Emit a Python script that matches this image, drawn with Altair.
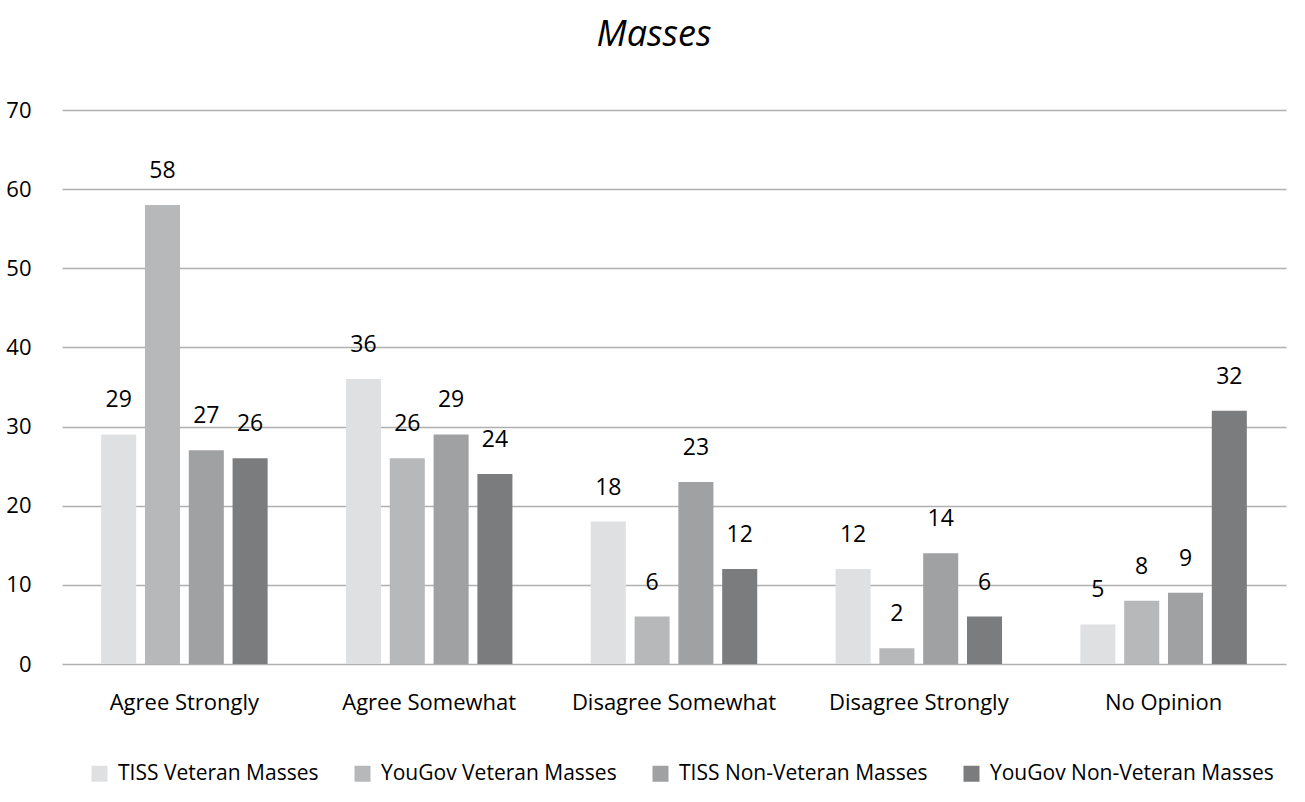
import altair as alt
import pandas as pd

categories = ["Agree Strongly", "Agree Somewhat", "Disagree Somewhat", "Disagree Strongly", "No Opinion"]
series = ["TISS Veteran Masses", "YouGov Veteran Masses", "TISS Non-Veteran Masses", "YouGov Non-Veteran Masses"]
tiss_vet = [29, 36, 18, 12, 5]
yougov_vet = [58, 26, 6, 2, 8]
tiss_nonvet = [27, 29, 23, 14, 9]
yougov_nonvet = [26, 24, 12, 6, 32]
colors = ["#dfe0e2", "#b7b8ba", "#a0a1a3", "#7b7c7e"]

rows = []
for s, vals in zip(series, [tiss_vet, yougov_vet, tiss_nonvet, yougov_nonvet]):
    for c, v in zip(categories, vals):
        rows.append({"category": c, "series": s, "value": v})
df = pd.DataFrame(rows)

FONT = "Open Sans"

x = alt.X("category:N", sort=categories, title=None,
          scale=alt.Scale(paddingInner=0.32, paddingOuter=0.16),
          axis=alt.Axis(labelAngle=0, labelFontSize=22, labelFont=FONT, labelColor="#000000",
                        labelPadding=28, labelLimit=0, ticks=False, domain=False, grid=False))
xo = alt.XOffset("series:N", sort=series, scale=alt.Scale(paddingInner=0.2))
y = alt.Y("value:Q", title=None,
          scale=alt.Scale(domain=[0, 70]),
          axis=alt.Axis(values=list(range(0, 71, 10)), labelFontSize=22, labelFont=FONT,
                        labelColor="#000000", labelPadding=31, ticks=False, domain=False,
                        gridColor="#b0b0b0", gridWidth=1.3))

bars = alt.Chart(df).mark_bar().encode(
    x=x, xOffset=xo, y=y,
    color=alt.Color("series:N", sort=series,
                    scale=alt.Scale(domain=series, range=colors),
                    legend=alt.Legend(title=None, orient="none", legendX=27, legendY=653,
                                      direction="horizontal",
                                      columns=4, labelFontSize=21, labelFont=FONT, labelLimit=0,
                                      labelColor="#000000", symbolType="square",
                                      symbolSize=256, symbolStrokeWidth=0,
                                      columnPadding=33, labelOffset=8)),
)
labels = alt.Chart(df).mark_text(dy=-22, baseline="bottom", fontSize=23, font=FONT, color="#000000").encode(
    x=x, xOffset=xo, y=y, text="value:Q"
)

chart = (bars + labels).properties(
    width=1224, height=554,
    padding={"left": 5, "top": 17, "right": 10, "bottom": 5},
    title=alt.TitleParams("Masses", fontSize=36, font=FONT, fontStyle="italic",
                          fontWeight="normal", color="#000000", offset=45, anchor="middle", dx=-20),
).configure_view(stroke=None)

chart.save("out.html", embed_options={"renderer": "svg", "actions": False})
